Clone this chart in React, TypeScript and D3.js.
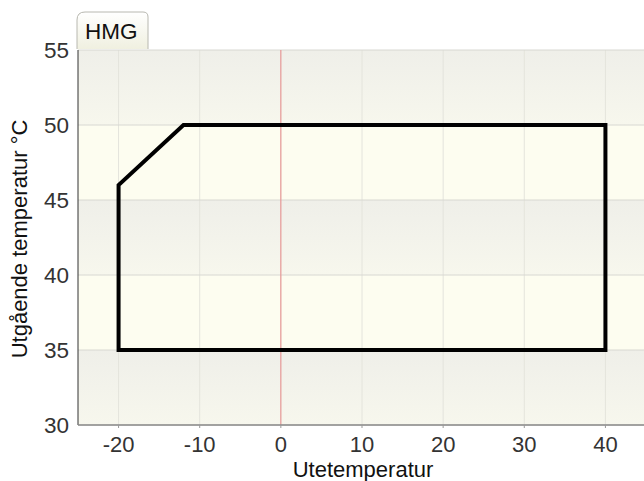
import * as d3 from "d3";

// envelope outline (outdoor temp, outgoing temp)
const envelopeX = [-20, -20, -12, 40, 40];
const envelopeY = [35, 46, 50, 50, 35];
const xTicks = [-20, -10, 0, 10, 20, 30, 40];
const yTicks = [30, 35, 40, 45, 50, 55];
const tabLabel = "HMG";
const xTitle = "Utetemperatur";
const yTitle = "Utgående temperatur °C";

const W = 644;
const H = 481;
const margin = { top: 50, right: -2, bottom: 56, left: 78 };

export default function App() {
  const x = d3
    .scaleLinear()
    .domain([-25, 45])
    .range([margin.left, W - margin.right]);
  const y = d3
    .scaleLinear()
    .domain([30, 55])
    .range([H - margin.bottom, margin.top]);

  const points: [number, number][] = envelopeX.map((v, i) => [v, envelopeY[i]]);
  const line = d3
    .line<[number, number]>()
    .x((d) => x(d[0]))
    .y((d) => y(d[1]))
    .curve(d3.curveLinearClosed);

  const bands = d3.range(0, yTicks.length - 1);
  const font = "'Liberation Sans', Arial, sans-serif";

  return (
    <svg
      width={W}
      height={H}
      style={{ position: "absolute", left: 0, top: 0, background: "#fff" }}
      fontFamily={font}
    >
      <defs>
        <linearGradient id="grayBand" x1="0" y1="0" x2="0" y2="1">
          <stop offset="0%" stopColor="#efefe9" />
          <stop offset="100%" stopColor="#f7f7ed" />
        </linearGradient>
        <linearGradient id="tabFill" x1="0" y1="0" x2="0" y2="1">
          <stop offset="0%" stopColor="#ffffff" />
          <stop offset="100%" stopColor="#f0f0e0" />
        </linearGradient>
      </defs>

      {/* alternating background bands */}
      {bands.map((i) => {
        const top = yTicks[yTicks.length - 1 - i];
        const bottom = yTicks[yTicks.length - 2 - i];
        return (
          <rect
            key={i}
            x={margin.left}
            y={y(top)}
            width={W - margin.left}
            height={y(bottom) - y(top)}
            fill={i % 2 === 0 ? "url(#grayBand)" : "#fdfdf0"}
          />
        );
      })}

      {/* grid */}
      {xTicks.map((t) => (
        <line
          key={`gx${t}`}
          x1={x(t)}
          x2={x(t)}
          y1={y(55)}
          y2={y(30)}
          stroke="#e4e4dc"
          strokeWidth={1}
        />
      ))}
      {yTicks.map((t) => (
        <line
          key={`gy${t}`}
          x1={margin.left}
          x2={W}
          y1={y(t)}
          y2={y(t)}
          stroke="#d8d8d2"
          strokeWidth={1}
        />
      ))}

      {/* zero line */}
      <line x1={x(0)} x2={x(0)} y1={y(55)} y2={y(30)} stroke="#e98c8c" strokeWidth={1} />

      {/* axes */}
      <line x1={margin.left} x2={margin.left} y1={y(55)} y2={y(30)} stroke="#333" strokeWidth={1} />
      <line x1={margin.left} x2={W} y1={y(30)} y2={y(30)} stroke="#8a8a8a" strokeWidth={1.5} />
      {xTicks.map((t) => (
        <line key={`tx${t}`} x1={x(t)} x2={x(t)} y1={y(30)} y2={y(30) + 3} stroke="#999" />
      ))}

      {/* envelope */}
      <path d={line(points) ?? ""} fill="none" stroke="#000" strokeWidth={4} strokeLinejoin="miter" />

      {/* tick labels */}
      {xTicks.map((t) => (
        <text key={`lx${t}`} x={x(t)} y={452} textAnchor="middle" fontSize={22} fill="#333">
          {t}
        </text>
      ))}
      {yTicks.map((t) => (
        <text
          key={`ly${t}`}
          x={69}
          y={y(t) + 8}
          textAnchor="end"
          fontSize={22.5}
          fill="#333"
        >
          {t}
        </text>
      ))}

      {/* titles */}
      <text x={363} y={477} textAnchor="middle" fontSize={22} fill="#111">
        {xTitle}
      </text>
      <text
        transform={`translate(27,${239}) rotate(-90)`}
        textAnchor="middle"
        fontSize={22}
        fill="#111"
      >
        {yTitle}
      </text>

      {/* tab */}
      <path
        d={`M77,49 L77,20 Q77,12 85,12 L143,12 Q148,12 148,17 L148,49`}
        fill="url(#tabFill)"
        stroke="#b8b8b0"
        strokeWidth={1}
      />
      <text x={85} y={38.5} fontSize={22.5} fill="#111">
        {tabLabel}
      </text>
    </svg>
  );
}
